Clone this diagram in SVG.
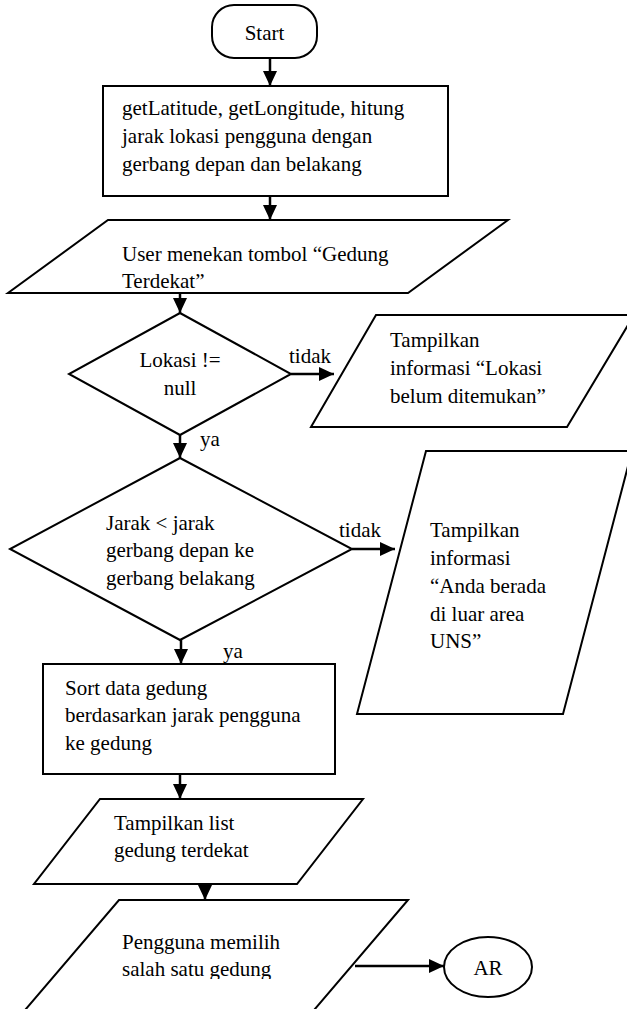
<svg xmlns="http://www.w3.org/2000/svg" width="627" height="1009" viewBox="0 0 627 1009" font-family="Liberation Serif, Times New Roman, serif" font-size="21">
<style>
.s{fill:#fff;stroke:#000;stroke-width:2}
.c{fill:none;stroke:#000;stroke-width:2.5}
.m{text-anchor:middle}
</style>
<defs>
<marker id="ah" viewBox="0 0 15 14" refX="15" refY="7" markerWidth="15" markerHeight="14" markerUnits="userSpaceOnUse" orient="auto">
<path d="M0,0 L15,7 L0,14 Z" fill="#000"/>
</marker>
<clipPath id="clip5"><rect x="0" y="900" width="627" height="79"/></clipPath>
</defs>
<rect width="627" height="1009" fill="#fff"/>
<g id="start">
<rect class="s" x="212" y="5" width="105" height="53" rx="22"/>
<text class="m" x="264.5" y="40">Start</text>
</g>
<g id="getloc">
<rect class="s" x="103" y="86" width="345" height="110"/>
<text x="122" y="115">getLatitude, getLongitude, hitung</text>
<text x="122" y="143">jarak lokasi pengguna dengan</text>
<text x="122" y="171">gerbang depan dan belakang</text>
</g>
<g id="userpress">
<polygon class="s" points="108,220 508,220 408,293 8,293"/>
<text x="122" y="261">User menekan tombol “Gedung</text>
<text x="122" y="288">Terdekat”</text>
</g>
<g id="lokasi">
<polygon class="s" points="180,313 291,374 180,435 69,374"/>
<text class="m" x="180" y="367">Lokasi !=</text>
<text class="m" x="180" y="395">null</text>
</g>
<g id="notfound">
<polygon class="s" points="376,315 634,315 567,427 311,427"/>
<text x="390" y="347">Tampilkan</text>
<text x="390" y="375">informasi “Lokasi</text>
<text x="390" y="403">belum ditemukan”</text>
</g>
<g id="jarak">
<polygon class="s" points="180,458 352,549 180,640 10,549"/>
<text x="106" y="530">Jarak &lt; jarak</text>
<text x="106" y="557">gerbang depan ke</text>
<text x="106" y="585">gerbang belakang</text>
</g>
<g id="outside">
<polygon class="s" points="426,451 632,451 563,714 357,714"/>
<text x="430" y="537">Tampilkan</text>
<text x="430" y="565">informasi</text>
<text x="430" y="593">“Anda berada</text>
<text x="430" y="621">di luar area</text>
<text x="430" y="648">UNS”</text>
</g>
<g id="sort">
<rect class="s" x="43" y="664" width="292" height="110"/>
<text x="65" y="695">Sort data gedung</text>
<text x="65" y="722">berdasarkan jarak pengguna</text>
<text x="65" y="750">ke gedung</text>
</g>
<g id="list">
<polygon class="s" points="100,799 363,799 297,884 34,884"/>
<text x="114" y="830">Tampilkan list</text>
<text x="114" y="857">gedung terdekat</text>
</g>
<g id="choose">
<polygon class="s" points="119,900 408,900 297,1030 8,1030"/>
<g clip-path="url(#clip5)">
<text x="122" y="949">Pengguna memilih</text>
<text x="122" y="976">salah satu gedung</text>
</g>
</g>
<g id="ar">
<ellipse class="s" cx="488" cy="967" rx="44" ry="30"/>
<text class="m" x="488" y="975">AR</text>
</g>
<g id="connectors">
<line class="c" x1="270" y1="58" x2="270" y2="86" marker-end="url(#ah)"/>
<line class="c" x1="270" y1="196" x2="270" y2="220" marker-end="url(#ah)"/>
<line class="c" x1="180" y1="293" x2="180" y2="313" marker-end="url(#ah)"/>
<line class="c" x1="291" y1="374" x2="334" y2="374" marker-end="url(#ah)"/>
<text x="289" y="363">tidak</text>
<line class="c" x1="180" y1="435" x2="180" y2="458" marker-end="url(#ah)"/>
<text x="200" y="446">ya</text>
<line class="c" x1="352" y1="549" x2="395" y2="549" marker-end="url(#ah)"/>
<text x="339" y="537">tidak</text>
<line class="c" x1="181" y1="640" x2="181" y2="664" marker-end="url(#ah)"/>
<text x="223" y="658">ya</text>
<line class="c" x1="180" y1="774" x2="180" y2="799" marker-end="url(#ah)"/>
<line class="c" x1="205" y1="884" x2="205" y2="900" marker-end="url(#ah)"/>
<line class="c" x1="355" y1="966" x2="444" y2="966" marker-end="url(#ah)"/>
</g>
</svg>
